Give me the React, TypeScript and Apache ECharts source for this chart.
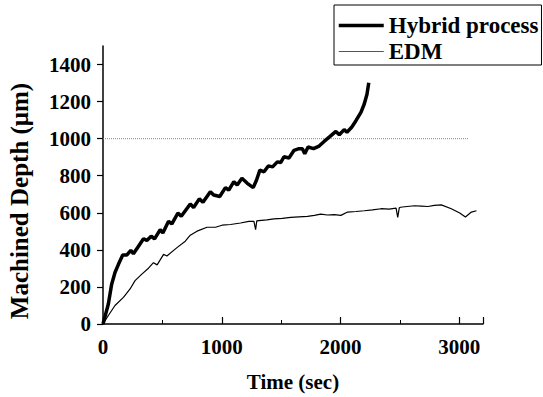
import React, { useEffect, useRef } from "react";
import * as echarts from "echarts";

const hybridTime = [0, 45, 73, 101, 130, 166, 200, 234, 256, 299, 341, 369, 406, 434, 482, 504, 552, 580, 631, 659, 735, 763, 811, 842, 904, 932, 983, 1031, 1059, 1102, 1130, 1170, 1215, 1265, 1293, 1321, 1356, 1392, 1428, 1468, 1496, 1524, 1566, 1609, 1651, 1679, 1699, 1727, 1773, 1820, 1862, 1905, 1961, 1990, 2031, 2054, 2094, 2130, 2172, 2200, 2223, 2238];
const hybridDepth = [0, 108, 215, 278, 322, 372, 372, 397, 379, 420, 460, 451, 474, 459, 509, 491, 554, 540, 599, 581, 648, 629, 675, 657, 714, 696, 688, 736, 722, 768, 750, 786, 759, 736, 777, 830, 821, 853, 848, 875, 871, 902, 896, 937, 946, 946, 919, 955, 946, 960, 985, 1008, 1039, 1021, 1049, 1035, 1062, 1097, 1142, 1187, 1240, 1302];

const edmTime = [0, 45, 101, 172, 228, 270, 327, 383, 425, 456, 510, 538, 623, 693, 735, 792, 876, 947, 1003, 1074, 1158, 1228, 1271, 1285, 1295, 1313, 1380, 1440, 1510, 1581, 1650, 1722, 1780, 1834, 1890, 1947, 2003, 2060, 2130, 2200, 2270, 2341, 2410, 2468, 2482, 2495, 2505, 2560, 2623, 2680, 2736, 2790, 2849, 2933, 3004, 3052, 3102, 3145];
const edmDepth = [0, 46, 100, 144, 189, 234, 269, 301, 331, 319, 376, 367, 412, 447, 479, 501, 522, 522, 533, 537, 545, 554, 554, 509, 556, 558, 562, 567, 570, 575, 578, 581, 586, 593, 588, 590, 586, 604, 607, 611, 616, 622, 620, 625, 575, 627, 630, 634, 638, 636, 634, 640, 643, 622, 599, 577, 604, 611];

const refTime = [0, 3080];
const refDepth = [1000, 1000];

const yTicks = [0, 200, 400, 600, 800, 1000, 1200, 1400];

const FONT = "Liberation Serif";

export default function App() {
  const ref = useRef<HTMLDivElement>(null);
  useEffect(() => {
    if (!ref.current) return;
    const chart = echarts.init(ref.current, null, { renderer: "svg" });
    const pairs = (xs: number[], ys: number[]) => xs.map((x, i) => [x, ys[i]]);
    const plain = (v: number) => String(v);
    chart.setOption({
      animation: false,
      backgroundColor: "#fff",
      grid: { left: 103, top: 46, right: 60, bottom: 70 },
      legend: {
        left: 334,
        top: 5,
        orient: "vertical",
        data: [
          { name: "Hybrid process", lineStyle: { color: "#000", width: 3.5 } },
          { name: "EDM", lineStyle: { color: "#555", width: 1 } },
        ],
        itemWidth: 45,
        itemHeight: 14,
        itemGap: 3,
        itemStyle: { opacity: 0 },
        padding: [9, 3, 2, 3],
        borderColor: "#000",
        borderWidth: 1,
        formatter: (name: string) => "{b|" + name + "}",
        textStyle: {
          color: "#000",
          rich: {
            b: { fontFamily: FONT, fontWeight: 700, fontSize: 23, color: "#000", lineHeight: 22 },
          },
        },
      },
      xAxis: {
        type: "value",
        min: 0,
        max: 3200,
        interval: 1000,
        name: "Time (sec)",
        nameLocation: "middle",
        nameGap: 47,
        nameTextStyle: { fontFamily: FONT, fontWeight: "bold", fontSize: 21, color: "#000" },
        axisLine: { lineStyle: { color: "#000", width: 1.5 } },
        axisTick: { inside: true, length: 7, lineStyle: { color: "#000", width: 1.2 } },
        minorTick: { show: true, splitNumber: 2, length: 4, lineStyle: { color: "#000", width: 1 } },
        axisLabel: { showMaxLabel: false, formatter: plain, margin: 12, fontFamily: FONT, fontWeight: "bold", fontSize: 21, color: "#000" },
        splitLine: { show: false },
      },
      yAxis: {
        type: "value",
        min: 0,
        max: 1500,
        interval: 100,
        axisLine: { show: true, lineStyle: { color: "#000", width: 1.5 } },
        axisTick: { show: true, length: 6, customValues: yTicks, lineStyle: { color: "#000", width: 1.2 } },
        axisLabel: { customValues: yTicks, formatter: plain, margin: 12, fontFamily: FONT, fontWeight: "bold", fontSize: 21, color: "#000" },
        splitLine: { show: false },
      },
      graphic: [
        {
          type: "text",
          x: 19,
          y: 201,
          rotation: Math.PI / 2,
          style: {
            text: "Machined Depth (μm)",
            fontFamily: FONT,
            fontWeight: "bold",
            fontSize: 25,
            fill: "#000",
            align: "center",
            verticalAlign: "middle",
          },
        },
      ],
      series: [
        {
          name: "ref",
          type: "line",
          data: pairs(refTime, refDepth),
          symbol: "none",
          silent: true,
          lineStyle: { color: "#888", width: 1, type: "dotted" },
        },
        {
          name: "Hybrid process",
          type: "line",
          data: pairs(hybridTime, hybridDepth),
          symbol: "none",
          itemStyle: { color: "#000" },
          lineStyle: { color: "#000", width: 3.5 },
          z: 3,
        },
        {
          name: "EDM",
          type: "line",
          data: pairs(edmTime, edmDepth),
          symbol: "none",
          itemStyle: { color: "#000" },
          lineStyle: { color: "#000", width: 1.2 },
        },
      ],
    });
    return () => chart.dispose();
  }, []);
  return <div ref={ref} style={{ width: 543, height: 397, position: "absolute", left: 0, top: 0 }} />;
}
